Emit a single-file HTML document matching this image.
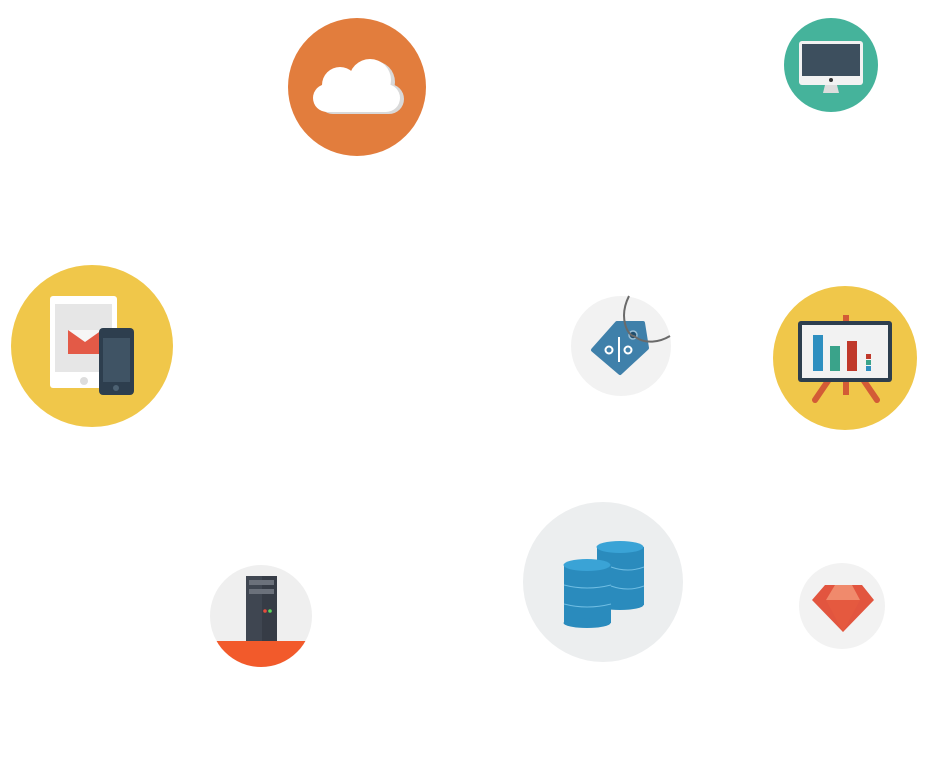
<!DOCTYPE html>
<html><head><style>html,body{margin:0;padding:0;background:#fff;width:950px;height:757px;overflow:hidden}</style></head>
<body>
<svg width="950" height="757" viewBox="0 0 950 757" xmlns="http://www.w3.org/2000/svg">
<defs>
<clipPath id="sc"><circle cx="261" cy="616" r="51"/></clipPath>
</defs>
<!-- cloud -->
<circle cx="357" cy="87" r="69" fill="#E27D3D"/>
<g fill="#d9d9d9"><circle cx="374" cy="82" r="21"/><rect x="318" y="84" width="86" height="30" rx="15"/></g>
<g fill="#fff"><circle cx="340" cy="85" r="18"/><circle cx="370" cy="80" r="21"/><rect x="313" y="84" width="87" height="28" rx="14"/></g>
<!-- monitor -->
<circle cx="831" cy="65" r="47" fill="#45B39B"/>
<rect x="799" y="41" width="64" height="44" rx="3" fill="#f2f2f2"/>
<rect x="802" y="44" width="58" height="32" fill="#3d4f5e"/>
<circle cx="831" cy="80" r="2" fill="#333"/>
<polygon points="825,85 837,85 839,93 823,93" fill="#ddd"/>
<!-- tablet/phone -->
<circle cx="92" cy="346" r="81" fill="#F0C74A"/>
<rect x="50" y="296" width="67" height="92" rx="3" fill="#fff"/>
<rect x="55" y="304" width="57" height="68" fill="#e6e6e6"/>
<circle cx="84" cy="381" r="4" fill="#ddd"/>
<rect x="68" y="330" width="34" height="24" fill="#e35a47"/>
<polygon points="68,330 102,330 85,342" fill="#f6f6f6"/>
<rect x="99" y="328" width="35" height="67" rx="4" fill="#2d3e4e"/>
<rect x="103" y="338" width="27" height="44" fill="#3f5364"/>
<circle cx="116" cy="388" r="3" fill="#4d6273"/>
<!-- tag -->
<circle cx="621" cy="346" r="50" fill="#F2F2F2"/>
<polygon points="617,323 643,323 647,348 620,373 593,350" fill="#3f80aa" stroke="#3f80aa" stroke-width="4" stroke-linejoin="round"/>
<circle cx="633" cy="335" r="4" fill="#1f4e6e" stroke="#9bbfd6" stroke-width="1.5"/>
<path d="M629 296 C618 318 628 336 634 336 C645 345 660 342 670 336" stroke="#6a6a6a" stroke-width="2" fill="none"/>
<line x1="619" y1="337" x2="619" y2="362" stroke="#fff" stroke-width="2"/>
<circle cx="609" cy="350" r="3.5" fill="#3f80aa" stroke="#fff" stroke-width="2"/>
<circle cx="628" cy="350" r="3.5" fill="#3f80aa" stroke="#fff" stroke-width="2"/>
<!-- presentation -->
<circle cx="845" cy="358" r="72" fill="#F0C74A"/>
<rect x="843" y="315" width="6" height="80" fill="#d35b36"/>
<line x1="830" y1="378" x2="815" y2="400" stroke="#d35b36" stroke-width="6" stroke-linecap="round"/>
<line x1="862" y1="378" x2="877" y2="400" stroke="#d35b36" stroke-width="6" stroke-linecap="round"/>
<rect x="798" y="321" width="94" height="61" rx="3" fill="#2d3e4e"/>
<rect x="802" y="325" width="86" height="53" fill="#f2f2f2"/>
<rect x="813" y="335" width="10" height="36" fill="#2e8fc0"/>
<rect x="830" y="346" width="10" height="25" fill="#3aa38a"/>
<rect x="847" y="341" width="10" height="30" fill="#c0392b"/>
<rect x="866" y="354" width="5" height="5" fill="#c0392b"/>
<rect x="866" y="360" width="5" height="5" fill="#3aa38a"/>
<rect x="866" y="366" width="5" height="5" fill="#2e8fc0"/>
<!-- server -->
<circle cx="261" cy="616" r="51" fill="#EFEFEF"/>
<rect x="200" y="641" width="130" height="40" fill="#F25A2B" clip-path="url(#sc)"/>
<rect x="246" y="576" width="31" height="65" fill="#3f4651"/>
<rect x="262" y="576" width="15" height="65" fill="#363c46"/>
<rect x="249" y="580" width="25" height="5" fill="#6b717b"/>
<rect x="249" y="589" width="25" height="5" fill="#6b717b"/>
<circle cx="265" cy="611" r="1.8" fill="#e74c3c"/><circle cx="270" cy="611" r="1.8" fill="#5cd65c"/>
<!-- database -->
<circle cx="603" cy="582" r="80" fill="#ECEEEF"/>
<g fill="#2a8bbd"><rect x="597" y="547" width="47" height="58"/><ellipse cx="620" cy="605" rx="23.5" ry="5"/></g>
<ellipse cx="620" cy="547" rx="23.5" ry="6" fill="#3aa3d6"/>
<g fill="#2a8bbd"><rect x="564" y="565" width="47" height="58"/><ellipse cx="587" cy="623" rx="23.5" ry="5"/></g>
<ellipse cx="587" cy="565" rx="23.5" ry="6" fill="#3aa3d6"/>
<g stroke="#6fbde3" stroke-width="1" fill="none"><path d="M564 585 Q587 591 611 585"/><path d="M564 604 Q587 610 611 604"/><path d="M611 567 Q628 573 644 567"/><path d="M611 586 Q628 592 644 586"/></g>
<!-- ruby -->
<circle cx="842" cy="606" r="43" fill="#F2F2F2"/>
<polygon points="825,585 862,585 874,600 843,632 812,600" fill="#e2553f"/>
<polygon points="835,585 852,585 860,600 826,600" fill="#f08a6c"/>
<polygon points="826,600 860,600 843,632" fill="#e5593f"/>
</svg>
</body></html>
